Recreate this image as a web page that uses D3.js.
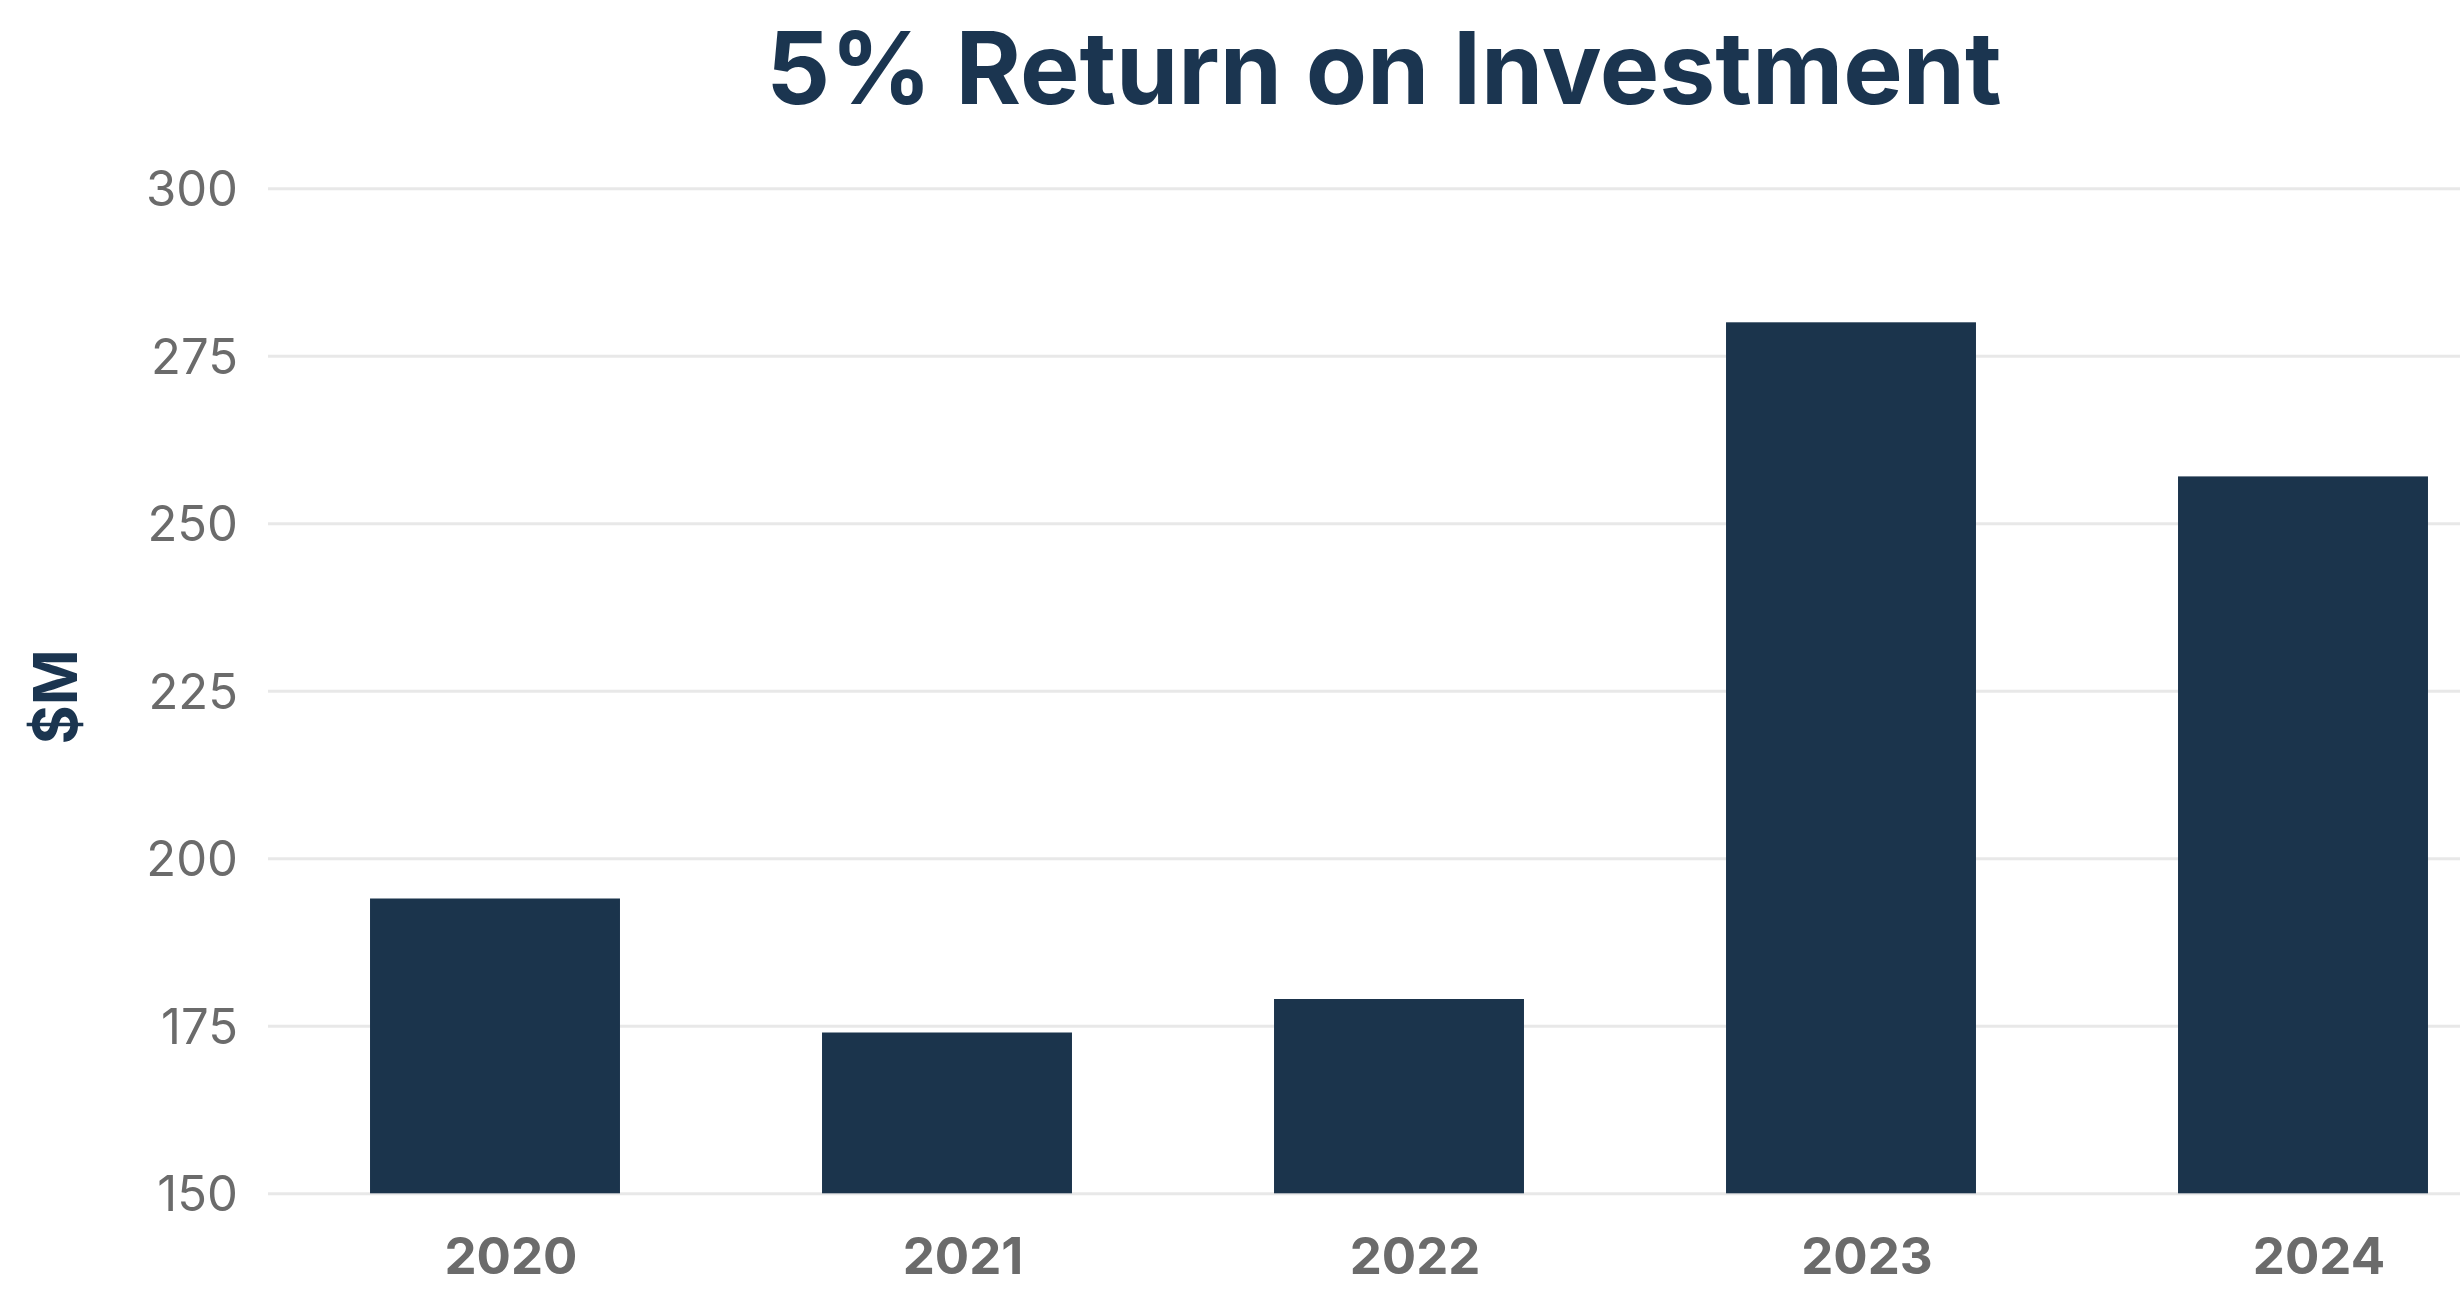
<!DOCTYPE html>
<html>
<head>
<meta charset="utf-8">
<script src="https://cdn.jsdelivr.net/npm/d3@7"></script>
<style>
  html, body { margin: 0; padding: 0; background: #ffffff; overflow: hidden; }
  svg { display: block; font-family: Inter, "Noto Sans", sans-serif; }
</style>
</head>
<body>
<svg id="chart" width="2460" height="1303"></svg>
<script>
const years = ["2020", "2021", "2022", "2023", "2024"];
const values = [194, 174, 179, 280, 257];
const yTicks = [150, 175, 200, 225, 250, 275, 300];
const titleText = "5% Return on Investment";
const yLabelText = "$M";

const W = 2460, H = 1303;
const svg = d3.select("#chart");

const y = d3.scaleLinear().domain([150, 300]).range([1193.3, 188.3]);
const x = d3.scaleBand().domain(years).range([269, 2529])
  .paddingInner(0.447).paddingOuter(0.2235);

// gridlines
const yAxis = d3.axisLeft(y).tickValues(yTicks).tickSize(0).tickPadding(0).tickFormat(d3.format("d"));
const gy = svg.append("g").attr("transform", "translate(238,0)").call(yAxis);
gy.select(".domain").remove();
gy.selectAll("text")
  .attr("x", 0).attr("dy", "0.36em")
  .attr("fill", "#6b6b6b")
  .style("font-size", "49px")
  .style("font-family", "Inter, sans-serif")
  .attr("text-anchor", "end");
gy.selectAll(".tick").append("line")
  .attr("x1", 30).attr("x2", W - 238)
  .attr("stroke", "#e8e8e8").attr("stroke-width", 3);

// bars
svg.append("g").selectAll("rect").data(years).join("rect")
  .attr("x", d => x(d))
  .attr("width", x.bandwidth())
  .attr("y", (d, i) => y(values[i]))
  .attr("height", (d, i) => y(150) - y(values[i]))
  .attr("fill", "#1b344c");

// x axis labels
const xAxis = d3.axisBottom(x).tickSize(0).tickPadding(0);
const gx = svg.append("g").attr("transform", "translate(16,1274)").call(xAxis);
gx.select(".domain").remove();
gx.selectAll("text")
  .attr("y", 0).attr("dy", 0)
  .attr("fill", "#6b6b6b")
  .style("font-size", "51px")
  .style("font-weight", "700")
  .style("font-family", "Inter, sans-serif");

// title
svg.append("text")
  .attr("x", 1384).attr("y", 104)
  .attr("text-anchor", "middle")
  .attr("fill", "#1b3550")
  .style("font-size", "100px")
  .style("font-weight", "700")
  .text(titleText);

// y label
svg.append("text")
  .attr("transform", "translate(77,697) rotate(-90)")
  .attr("text-anchor", "middle")
  .attr("fill", "#1b3550")
  .style("font-size", "60px")
  .style("font-weight", "700")
  .text(yLabelText);
</script>
</body>
</html>
